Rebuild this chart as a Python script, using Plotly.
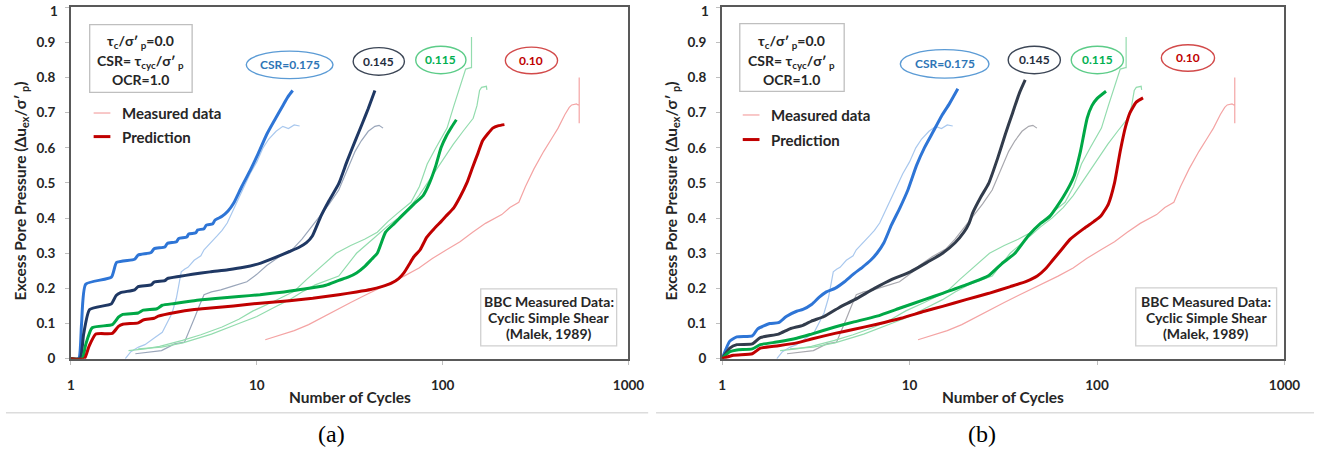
import plotly.graph_objects as go

W, H = 1332, 463
FONT = "Lato"

# ---------------- measured data (Malek, 1989), shared by both panels ----------------
meas_175_x = [1.96, 2.1, 2.31, 2.5, 2.83, 3.1, 3.33, 3.5, 3.69, 3.8, 3.92, 4.1, 4.26, 4.6, 5.0, 5.2,
              5.43, 5.8, 6.13, 6.5, 6.93, 7.5, 8.2, 9.2, 10.0, 10.8, 11.6, 12.7, 13.8, 14.8, 15.9, 17.0]
meas_175_y = [0.0, 0.02, 0.033, 0.04, 0.06, 0.075, 0.107, 0.13, 0.172, 0.21, 0.247, 0.255, 0.26, 0.28,
              0.293, 0.31, 0.32, 0.335, 0.35, 0.365, 0.386, 0.425, 0.47, 0.526, 0.56, 0.60, 0.625, 0.647,
              0.661, 0.655, 0.665, 0.662]

meas_145_x = [2.22, 2.6, 3.07, 3.4, 3.61, 4.08, 4.35, 4.62, 4.9, 5.2, 5.7, 6.4, 7.5, 8.84, 10.0, 11.3,
              13.2, 15.6, 17.5, 19.2, 21.6, 24.5, 27.6, 30.5, 33.8, 36.5, 39.8, 43.2, 45.5, 47.8]
meas_145_y = [0.014, 0.018, 0.023, 0.035, 0.042, 0.047, 0.08, 0.116, 0.15, 0.182, 0.19, 0.196, 0.207,
              0.219, 0.24, 0.265, 0.29, 0.312, 0.34, 0.368, 0.405, 0.44, 0.48, 0.535, 0.59, 0.62, 0.647,
              0.661, 0.664, 0.656]

meas_115a_x = [2.04, 2.5, 3.0, 3.98, 5.0, 6.5, 8.0, 9.55, 12.0, 15.9, 18.5, 21.7, 24.0, 26.7, 32.0, 38.0,
               44.5, 50.7, 57.5, 67.5, 75.0, 82.6, 92.0, 105.6, 115.0, 124.0, 130.0, 133.0, 142.0, 143.0,
               143.0, 143.0]
meas_115a_y = [0.023, 0.028, 0.035, 0.052, 0.068, 0.09, 0.112, 0.136, 0.16, 0.192, 0.225, 0.258, 0.28,
               0.30, 0.322, 0.34, 0.36, 0.39, 0.415, 0.445, 0.49, 0.554, 0.6, 0.656, 0.72, 0.777, 0.81,
               0.824, 0.828, 0.828, 0.915, 0.85]

meas_115b_x = [2.3, 3.07, 4.0, 5.7, 8.0, 10.0, 12.3, 15.0, 17.5, 20.6, 27.6, 34.4, 42.0, 50.0, 57.5, 66.0,
               74.6, 82.8, 95.0, 114.0, 130.0, 146.0, 153.0, 158.0, 162.0, 168.0, 172.0, 173.0]
meas_115b_y = [0.028, 0.033, 0.045, 0.07, 0.1, 0.12, 0.145, 0.168, 0.19, 0.21, 0.235, 0.30, 0.34, 0.375,
               0.40, 0.43, 0.464, 0.50, 0.55, 0.61, 0.65, 0.684, 0.72, 0.763, 0.772, 0.775, 0.775, 0.765]

meas_100_x = [11.1, 13.0, 15.9, 19.0, 22.0, 26.7, 32.0, 38.0, 44.5, 52.0, 62.0, 74.6, 88.0, 105.0, 124.0,
              145.0, 170.0, 208.0, 230.0, 257.0, 279.0, 310.0, 350.0, 390.0, 418.0, 455.0, 480.0, 495.0,
              525.0, 535.0, 543.0, 543.0, 543.0]
meas_100_y = [0.054, 0.065, 0.08, 0.097, 0.115, 0.14, 0.16, 0.18, 0.197, 0.215, 0.235, 0.258, 0.285, 0.31,
              0.333, 0.36, 0.385, 0.41, 0.43, 0.445, 0.49, 0.54, 0.59, 0.63, 0.656, 0.695, 0.715, 0.722,
              0.725, 0.722, 0.722, 0.80, 0.67]

# ---------------- predictions, panel (a) ----------------
pa_175_x = [1.0, 1.1, 1.14, 1.2, 1.65, 1.76, 2.2, 2.3, 2.7, 2.8, 3.2, 3.3, 3.7, 3.8, 4.2, 4.3, 4.7, 4.8,
            5.2, 5.35, 5.8, 5.95, 6.5, 7.0, 7.5, 8.3, 9.2, 10.2, 11.3, 12.5, 13.8, 14.7, 15.6]
pa_175_y = [0.0, 0.0, 0.1, 0.212, 0.232, 0.274, 0.283, 0.295, 0.302, 0.313, 0.318, 0.328, 0.333, 0.342,
            0.346, 0.355, 0.358, 0.366, 0.37, 0.38, 0.384, 0.394, 0.405, 0.42, 0.442, 0.49, 0.535, 0.585,
            0.638, 0.68, 0.72, 0.745, 0.763]

pa_145_x = [1.0, 1.12, 1.17, 1.26, 1.65, 1.75, 1.85, 2.2, 2.3, 2.7, 2.8, 3.2, 3.3, 3.8, 4.5, 5.6, 7.0,
            8.5, 10.5, 12.7, 15.0, 16.9, 18.5, 19.9, 22.1, 24.5, 27.6, 30.5, 33.8, 37.0, 39.8, 43.2]
pa_145_y = [0.0, 0.0, 0.07, 0.14, 0.156, 0.18, 0.188, 0.196, 0.205, 0.21, 0.218, 0.222, 0.228, 0.234,
            0.24, 0.247, 0.253, 0.26, 0.272, 0.289, 0.305, 0.317, 0.33, 0.349, 0.405, 0.45, 0.498, 0.56,
            0.619, 0.67, 0.712, 0.763]

pa_115_x = [1.0, 1.15, 1.2, 1.3, 1.67, 1.8, 1.9, 2.3, 2.45, 2.9, 3.1, 3.6, 4.6, 6.0, 8.0, 10.4, 14.0,
            18.0, 23.5, 27.6, 31.0, 34.4, 38.0, 41.5, 44.5, 49.3, 55.0, 60.5, 70.0, 78.5, 85.0, 92.0,
            98.0, 105.0, 112.0, 118.5]
pa_115_y = [0.0, 0.0, 0.04, 0.088, 0.097, 0.118, 0.126, 0.13, 0.138, 0.142, 0.152, 0.157, 0.165, 0.171,
            0.177, 0.182, 0.19, 0.198, 0.209, 0.223, 0.232, 0.244, 0.262, 0.283, 0.30, 0.36, 0.385,
            0.407, 0.44, 0.464, 0.5, 0.55, 0.6, 0.635, 0.66, 0.68]

pa_100_x = [1.0, 1.18, 1.25, 1.36, 1.67, 1.8, 1.9, 2.3, 2.45, 2.8, 2.95, 3.7, 4.5, 5.65, 7.5, 10.4, 15.0,
            20.0, 27.6, 34.4, 41.0, 47.0, 53.0, 58.0, 62.0, 65.5, 70.0, 75.7, 82.0, 90.0, 98.0, 104.0,
            115.0, 124.0, 135.0, 145.0, 155.0, 164.0, 175.0, 186.0, 200.0, 215.0]
pa_100_y = [0.0, 0.0, 0.035, 0.07, 0.072, 0.092, 0.098, 0.102, 0.11, 0.115, 0.121, 0.132, 0.139, 0.144,
            0.15, 0.158, 0.165, 0.172, 0.182, 0.19, 0.197, 0.205, 0.215, 0.228, 0.245, 0.265, 0.29,
            0.31, 0.345, 0.37, 0.39, 0.405, 0.43, 0.46, 0.5, 0.545, 0.585, 0.62, 0.64, 0.656, 0.663, 0.666]

# ---------------- predictions, panel (b) ----------------
pb_175_x = [1.0, 1.1, 1.2, 1.45, 1.55, 1.8, 2.0, 2.2, 2.5, 2.7, 3.0, 3.3, 3.6, 4.0, 4.5, 5.0, 5.6, 6.2,
            6.7, 7.3, 8.0, 8.9, 9.8, 10.9, 12.0, 13.4, 14.8, 16.3, 18.1]
pb_175_y = [0.0, 0.05, 0.062, 0.065, 0.085, 0.10, 0.1025, 0.12, 0.135, 0.14, 0.154, 0.175, 0.19, 0.2,
            0.219, 0.24, 0.26, 0.28, 0.30, 0.33, 0.38, 0.43, 0.48, 0.55, 0.6, 0.647, 0.69, 0.725, 0.768]

pb_145_x = [1.0, 1.1, 1.2, 1.45, 1.6, 2.0, 2.3, 2.7, 3.0, 3.5, 4.2, 5.1, 6.5, 8.0, 10.1, 12.5, 15.0, 17.5,
            19.5, 20.8, 21.7, 24.0, 26.4, 29.5, 32.4, 35.5, 38.5, 41.4]
pb_145_y = [0.0, 0.03, 0.04, 0.042, 0.06, 0.07, 0.085, 0.095, 0.107, 0.12, 0.145, 0.168, 0.2, 0.225,
            0.247, 0.275, 0.30, 0.33, 0.36, 0.386, 0.414, 0.46, 0.498, 0.57, 0.638, 0.7, 0.755, 0.793]

pb_115_x = [1.0, 1.1, 1.2, 1.45, 1.6, 2.0, 2.5, 3.0, 4.0, 5.0, 6.7, 9.0, 12.0, 15.0, 20.0, 26.5, 31.0,
            36.5, 43.0, 50.0, 56.0, 66.0, 75.5, 81.6, 88.6, 94.0, 100.0, 111.7]
pb_115_y = [0.0, 0.02, 0.025, 0.028, 0.04, 0.048, 0.058, 0.07, 0.09, 0.104, 0.121, 0.145, 0.168, 0.186,
            0.21, 0.237, 0.27, 0.30, 0.35, 0.385, 0.405, 0.46, 0.52, 0.59, 0.684, 0.72, 0.74, 0.761]

pb_100_x = [1.0, 1.15, 1.45, 1.6, 2.0, 2.5, 3.0, 4.0, 5.0, 6.7, 9.0, 12.0, 15.0, 20.0, 26.5, 34.5, 42.0,
            48.0, 53.0, 58.0, 64.6, 72.0, 85.0, 96.0, 104.5, 115.0, 124.0, 133.0, 142.0, 150.0, 162.0,
            176.0]
pb_100_y = [0.0, 0.01, 0.014, 0.03, 0.037, 0.045, 0.056, 0.072, 0.083, 0.098, 0.115, 0.135, 0.149, 0.168,
            0.186, 0.205, 0.22, 0.235, 0.255, 0.28, 0.31, 0.34, 0.37, 0.39, 0.405, 0.44, 0.5, 0.59, 0.66,
            0.70, 0.73, 0.742]

x_tick_vals = [1, 10, 100, 1000]
x_tick_text = ["1", "10", "100", "1000"]
y_tick_vals = [0, 0.1, 0.2, 0.3, 0.4, 0.5, 0.6, 0.7, 0.8, 0.9, 1.0]
y_tick_text = ["0", "0.1", "0.2", "0.3", "0.4", "0.5", "0.6", "0.7", "0.8", "0.9", "1"]

csr_labels = ["CSR=0.175", "0.145", "0.115", "0.10"]


def px(x):
    return x / W


def py(y):
    return 1 - y / H


fig = go.Figure()


def add_line(x, y, color, width, xa, ya, smooth):
    line = dict(color=color, width=width)
    if smooth:
        line.update(shape="spline", smoothing=0.5)
    fig.add_trace(go.Scatter(x=x, y=y, mode="lines", line=line,
                             xaxis=xa, yaxis=ya, showlegend=False, hoverinfo="skip"))


measured = [
    (meas_175_x, meas_175_y, "#a9c8ee"),
    (meas_145_x, meas_145_y, None),
    (meas_115a_x, meas_115a_y, "#93dcae"),
    (meas_115b_x, meas_115b_y, "#93dcae"),
    (meas_100_x, meas_100_y, "#f4a4a4"),
]

panels = [
    dict(xa="x", ya="y", navy_meas="#9aa6ba", preds=[
        (pa_175_x, pa_175_y, "#2e75d6"), (pa_145_x, pa_145_y, "#1f3864"),
        (pa_115_x, pa_115_y, "#00a846"), (pa_100_x, pa_100_y, "#c00000")]),
    dict(xa="x2", ya="y2", navy_meas="#a8a8ae", preds=[
        (pb_175_x, pb_175_y, "#2e75d6"), (pb_145_x, pb_145_y, "#323c4c"),
        (pb_115_x, pb_115_y, "#00a846"), (pb_100_x, pb_100_y, "#c00000")]),
]

for p in panels:
    for mx, my, mc in measured:
        add_line(mx, my, mc if mc else p["navy_meas"], 1.2, p["xa"], p["ya"], False)
    for qx, qy, qc in p["preds"]:
        add_line(qx, qy, qc, 3, p["xa"], p["ya"], True)

# the top "1" label sits at the very edge of the page, so it is drawn as an annotation
y_tick_shown = y_tick_text[:-1] + [""]

frame = "#595959"
TICK_SIZE = 13.5
tick_font = dict(family=FONT, size=TICK_SIZE, color="#262626", weight="bold")
common_x = dict(type="log", range=[0, 3], tickvals=x_tick_vals, ticktext=x_tick_text,
                showline=True, mirror=True, linecolor=frame, linewidth=2, showgrid=False,
                zeroline=False, ticks="outside", ticklen=4, tickcolor="#bfbfbf",
                ticklabelstandoff=9, tickfont=tick_font)
common_y = dict(range=[0, 1.001], tickvals=y_tick_vals, ticktext=y_tick_shown,
                showline=True, mirror=True, linecolor=frame, linewidth=2, showgrid=False,
                zeroline=False, ticks="outside", ticklen=4, tickcolor="#bfbfbf",
                ticklabelstandoff=7, tickfont=tick_font)

ydom = [py(365), py(7)]
fig.update_layout(
    width=W, height=H, margin=dict(l=0, r=0, t=0, b=0),
    paper_bgcolor="white", plot_bgcolor="white", showlegend=False,
    xaxis=dict(domain=[px(68), px(634)], anchor="y", **common_x),
    yaxis=dict(domain=ydom, anchor="x", **common_y),
    xaxis2=dict(domain=[px(729), px(1300)], anchor="y2", **common_x),
    yaxis2=dict(domain=ydom, anchor="x2", **common_y),
)

shapes = []
annotations = []


def text(x, y, s, size=13, color="#262626", bold=True, family=FONT, angle=0, xanchor="center",
         yanchor="middle"):
    annotations.append(dict(x=px(x), y=py(y), xref="paper", yref="paper", text=s, showarrow=False,
                            textangle=angle, xanchor=xanchor, yanchor=yanchor,
                            font=dict(family=family, size=size, color=color,
                                      weight="bold" if bold else "normal")))


def rect(x0, y0, x1, y1, color):
    shapes.append(dict(type="rect", xref="paper", yref="paper", x0=px(x0), x1=px(x1), y0=py(y1),
                       y1=py(y0), line=dict(color=color, width=1.3), fillcolor="white", layer="above"))


def ellipse(cx, cy, w, h, color):
    shapes.append(dict(type="circle", xref="paper", yref="paper", x0=px(cx - w / 2), x1=px(cx + w / 2),
                       y0=py(cy + h / 2), y1=py(cy - h / 2), line=dict(color=color, width=1.4),
                       layer="above"))


def hline(x0, x1, y, color, width):
    shapes.append(dict(type="line", xref="paper", yref="paper", x0=px(x0), x1=px(x1), y0=py(y),
                       y1=py(y), line=dict(color=color, width=width), layer="above"))


ytitle = "Excess Pore Pressure (Δu<sub>ex</sub>/σ′<sub> p</sub>)"
ell_line = ["#5b9bd5", "#3c4656", "#5ccc88", "#d24a4a"]
ell_text = ["#2e75b6", "#1f2d3d", "#00b050", "#c00000"]

layout_px = [
    dict(x0=68, x1=634, ytit=17, box=(87, 25, 191, 94), leg_x=(91, 108), leg_t=118, leg_y=(115, 139),
         ell=[(290, 66, 88, 28), (380.5, 62.5, 52, 28), (443.5, 61, 51, 28), (535.5, 61.5, 53, 27)],
         src=(484, 294, 622, 352), tag="(a)", tag_x=332, sep=(2, 654)),
    dict(x0=729, x1=1300, ytit=678, box=(747, 24, 853, 93), leg_x=(750, 767), leg_t=777,
         leg_y=(117, 142),
         ell=[(955, 65, 90, 29), (1046, 61, 53, 28), (1110, 61, 53, 28), (1202, 59, 54, 27)],
         src=(1149, 293, 1292, 352), tag="(b)", tag_x=993, sep=(662, 1330)),
]

for L in layout_px:
    cx = (L["x0"] + L["x1"]) / 2
    # top y tick label
    text(L["x0"] - 11, 1, y_tick_text[-1], size=TICK_SIZE, xanchor="right", yanchor="top")
    # axis titles
    text(L["ytit"], 194, ytitle, size=15.5, angle=-90)
    text(cx, 404, "Number of Cycles", size=15.5)
    # parameter box
    bx0, by0, bx1, by1 = L["box"]
    rect(bx0, by0, bx1, by1, "#bfbfbf")
    bcx = (bx0 + bx1) / 2
    text(bcx, 42, "τ<sub>c</sub>/σ′<sub> p</sub>=0.0", size=14)
    text(bcx, 63, "CSR= τ<sub>cyc</sub>/σ′<sub> p</sub>", size=14)
    text(bcx, 81, "OCR=1.0", size=14)
    # legend
    hline(L["leg_x"][0], L["leg_x"][1], L["leg_y"][0], "#f4a4a4", 1.2)
    hline(L["leg_x"][0], L["leg_x"][1], L["leg_y"][1], "#c00000", 3)
    text(L["leg_t"], L["leg_y"][0], "Measured data", size=15, xanchor="left")
    text(L["leg_t"], L["leg_y"][1], "Prediction", size=15, xanchor="left")
    # CSR tags
    for (ex, ey, ew, eh), lab, lc, tc in zip(L["ell"], csr_labels, ell_line, ell_text):
        ellipse(ex, ey, ew, eh, lc)
        text(ex, ey, lab, size=12, color=tc)
    # data source box
    sx0, sy0, sx1, sy1 = L["src"]
    rect(sx0, sy0, sx1, sy1, "#d0d0d0")
    scx = (sx0 + sx1) / 2
    text(scx, 307, "BBC Measured Data:", size=14)
    text(scx, 323, "Cyclic Simple Shear", size=14)
    text(scx, 339, "(Malek, 1989)", size=14)
    # panel separator and tag
    hline(L["sep"][0], L["sep"][1], 420, "#dcdcdc", 1.5)
    text(L["tag_x"], 442, L["tag"], size=24, color="#000000", bold=False, family="Liberation Serif")

fig.update_layout(shapes=shapes, annotations=annotations)
fig.write_html("out.html")
